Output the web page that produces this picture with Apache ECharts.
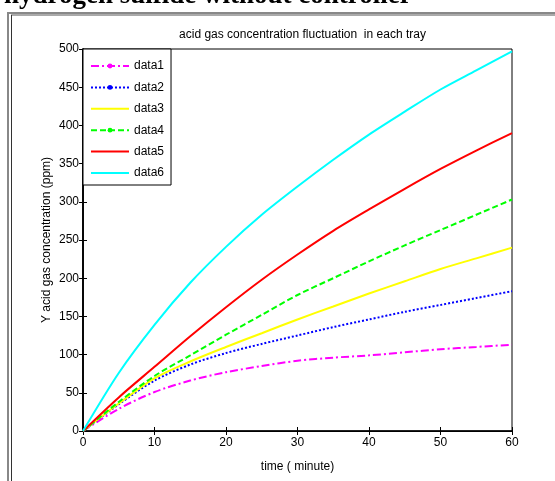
<!DOCTYPE html>
<html>
<head>
<meta charset="utf-8">
<script src="https://cdn.jsdelivr.net/npm/echarts@6/dist/echarts.min.js"></script>
<style>
html,body{margin:0;padding:0;background:#fff;}
#chart{width:555px;height:481px;}
</style>
</head>
<body>
<div id="chart"></div>
<script>
// time (minute)
var times = [0, 5, 10, 15, 20, 25, 30, 35, 40, 45, 50, 55, 60];
var data1 = [0, 29, 51, 66, 77, 85, 92, 96, 99, 103, 107, 110, 113];
var data2 = [0, 35, 66, 87, 102, 114, 125, 136, 146, 156, 165, 174, 183];
var data3 = [0, 36, 69, 91, 110, 128, 146, 163, 180, 196, 212, 226, 240];
var data4 = [0, 38, 72, 99, 126, 152, 178, 200, 222, 243, 263, 283, 303];
var data5 = [0, 44, 84, 124, 162, 198, 231, 262, 290, 317, 343, 367, 390];
var data6 = [0, 76, 139, 194, 241, 283, 320, 355, 388, 418, 447, 472, 497];
var seriesNames = ['data1', 'data2', 'data3', 'data4', 'data5', 'data6'];
var figureTitle = 'hydrogen sulfide without controller';
var chartTitle = 'acid gas concentration fluctuation  in each tray';
var xName = 'time ( minute)';
var yName = 'Y acid gas concentration (ppm)';

function pairs(vals) {
  return times.map(function (t, i) { return [t, vals[i]]; });
}

var FONT = 'Liberation Sans';
var styles = [
  { color: '#ff00ff', type: [8, 3, 2, 3], marker: true },
  { color: '#0000ff', type: [2, 2], marker: true },
  { color: '#ffff00', type: 'solid', marker: false },
  { color: '#00ff00', type: [6, 3], marker: true },
  { color: '#ff0000', type: 'solid', marker: false },
  { color: '#00ffff', type: 'solid', marker: false }
];
var allData = [data1, data2, data3, data4, data5, data6];

var series = allData.map(function (d, i) {
  return {
    name: seriesNames[i],
    type: 'line',
    data: pairs(d),
    symbol: 'circle',
    symbolSize: 5,
    showSymbol: false,
    smooth: 0.3,
    itemStyle: { color: styles[i].color },
    lineStyle: { color: styles[i].color, width: 2, type: styles[i].type },
    animation: false,
    z: 2 + i
  };
});

var legendData = seriesNames.map(function (n, i) {
  var item = { name: n };
  if (!styles[i].marker) item.itemStyle = { opacity: 0 };
  return item;
});

var chart = echarts.init(document.getElementById('chart'), null, { renderer: 'canvas' });
var tickCommon = { inside: true, length: 4, lineStyle: { color: '#000', width: 1 } };
chart.setOption({
  backgroundColor: '#fff',
  animation: false,
  title: {
    text: chartTitle,
    left: 297.5,
    textAlign: 'center',
    top: 24,
    textStyle: { fontFamily: FONT, fontSize: 12, fontWeight: 'normal', color: '#000' }
  },
  legend: {
    orient: 'vertical',
    left: 83,
    top: 49,
    padding: [11, 7, 6, 7],
    itemWidth: 38,
    itemHeight: 6,
    itemGap: 9.4,
    backgroundColor: '#fff',
    borderColor: '#000',
    borderWidth: 1,
    selectedMode: false,
    textStyle: { fontFamily: FONT, fontSize: 12, color: '#000' },
    data: legendData
  },
  grid: { left: 83, right: 43, top: 49, bottom: 50, show: true, borderColor: '#000', borderWidth: 1, backgroundColor: '#fff' },
  xAxis: [{
    type: 'value', min: 0, max: 60, interval: 10,
    name: xName, nameLocation: 'middle', nameGap: 30, nameMoveOverlap: false,
    nameTextStyle: { fontFamily: FONT, fontSize: 12, color: '#000' },
    axisLine: { show: true, lineStyle: { color: '#000', width: 1.5 } },
    axisTick: tickCommon,
    splitLine: { show: false },
    axisLabel: { fontFamily: FONT, fontSize: 12, color: '#000', margin: 6 }
  }, {
    type: 'value', min: 0, max: 60, interval: 10, position: 'top',
    axisLine: { show: true, lineStyle: { color: '#000', width: 1 } },
    axisTick: tickCommon, axisLabel: { show: false }, splitLine: { show: false }
  }],
  yAxis: [{
    type: 'value', min: 0, max: 500, interval: 50,
    name: yName, nameLocation: 'middle', nameGap: 30, nameRotate: 90, nameMoveOverlap: false,
    nameTextStyle: { fontFamily: FONT, fontSize: 12, color: '#000' },
    axisLine: { show: true, lineStyle: { color: '#000', width: 1.5 } },
    axisTick: tickCommon,
    splitLine: { show: false },
    axisLabel: { fontFamily: FONT, fontSize: 12, color: '#000', margin: 4 }
  }, {
    type: 'value', min: 0, max: 500, interval: 50, position: 'right',
    axisLine: { show: true, lineStyle: { color: '#000', width: 1.5 } },
    axisTick: tickCommon, axisLabel: { show: false }, splitLine: { show: false }
  }],
  graphic: [
    { type: 'line', shape: { x1: 8, y1: 13, x2: 555, y2: 13 }, style: { stroke: '#888', lineWidth: 2 } },
    { type: 'line', shape: { x1: 11, y1: 15, x2: 555, y2: 15 }, style: { stroke: '#555', lineWidth: 1 } },
    { type: 'line', shape: { x1: 8, y1: 12, x2: 8, y2: 481 }, style: { stroke: '#888', lineWidth: 2 } },
    { type: 'line', shape: { x1: 11.5, y1: 15, x2: 11.5, y2: 481 }, style: { stroke: '#333', lineWidth: 1 } },
    { type: 'text', left: 4, top: -17, style: { text: figureTitle, fontFamily: 'Liberation Serif', fontWeight: 'bold', fontSize: 27, fill: '#000' } }
  ],
  series: series
});
</script>
</body>
</html>
